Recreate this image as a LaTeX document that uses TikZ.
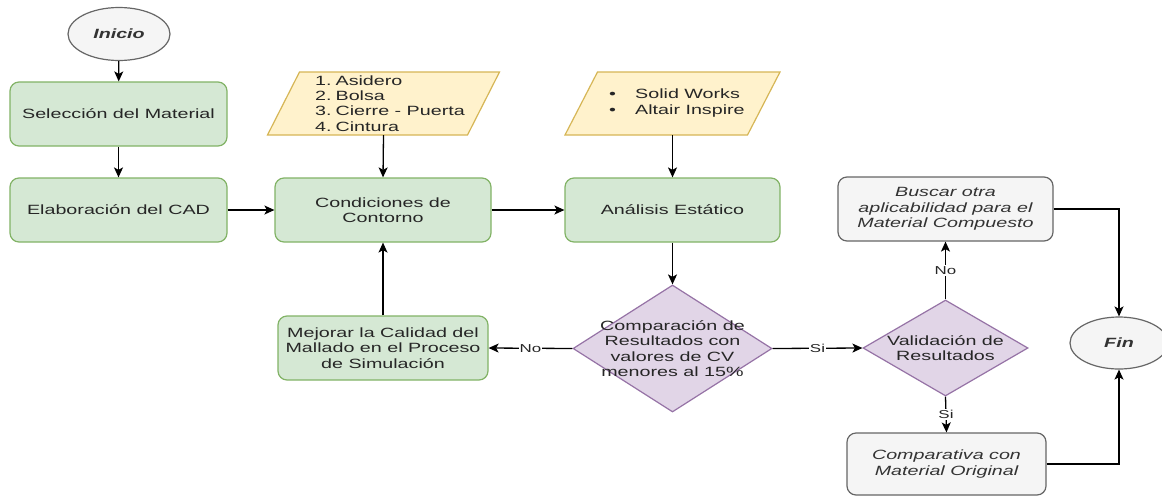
\documentclass[tikz,border=0pt]{standalone}
\usepackage{fontspec}
\setmainfont{Liberation Sans}[FakeStretch=1.47]
\usetikzlibrary{shapes.geometric,arrows.meta,calc}
\definecolor{gfill}{HTML}{D5E8D4}
\definecolor{gline}{HTML}{82B366}
\definecolor{yfill}{HTML}{FFF2CC}
\definecolor{yline}{HTML}{D6B656}
\definecolor{pfill}{HTML}{E1D5E7}
\definecolor{pline}{HTML}{9673A6}
\definecolor{efill}{HTML}{F5F5F5}
\definecolor{eline}{HTML}{666666}
\definecolor{etext}{HTML}{333333}
\newcommand\mainfs{\fontsize{13.4}{15.3}\selectfont}
\newcommand\lblfs{\fontsize{11.5}{13}\selectfont}
\tikzset{
  gbox/.style={draw=gline, fill=gfill, line width=1.2pt, rounded corners=9pt,
    minimum height=64pt, inner sep=0pt, align=center, font=\mainfs, text=black!85},
  ebox/.style={draw=eline, fill=efill, line width=1.2pt, rounded corners=9pt,
    minimum height=64pt, inner sep=0pt, align=center, font=\mainfs\itshape, text=etext},
  term/.style={draw=eline, fill=efill, line width=1.2pt, ellipse, inner sep=0pt,
    font=\mainfs\bfseries\itshape, text=etext},
  dec/.style={draw=pline, fill=pfill, line width=1.2pt, diamond, inner sep=0pt},
  para/.style={draw=yline, fill=yfill, line width=1.2pt},
  ghost/.style={inner sep=0pt, minimum width=168pt, minimum height=63pt},
  txt/.style={inner sep=0pt, font=\mainfs, text=black!85},
  arr/.style={draw=black, line width=1.3pt, -{Stealth[length=10pt,width=9pt,inset=2.5pt]}},
  lbl/.style={fill=white, inner sep=1pt, font=\lblfs, text=black!85},
}
\begin{document}
\begin{tikzpicture}[x=1pt,y=-1pt]
\useasboundingbox[fill=white] (0,0) rectangle (1162,496);

% nodes
\node[term, minimum width=102pt, minimum height=53pt] (ini) at (119,34) {Inicio};
\node[gbox, minimum width=217pt] (sel) at (118.5,114) {Selección del Material};
\node[gbox, minimum width=217pt] (cad) at (118.5,210) {Elaboración del CAD};
\node[gbox, minimum width=216pt] (cond) at (383,210) {Condiciones de\\Contorno};
\node[gbox, minimum width=215pt] (ana) at (672.5,210) {Análisis Estático};
\node[ebox, minimum width=215pt] (bus) at (945.5,209) {Buscar otra\\aplicabilidad para el\\Material Compuesto};
\node[gbox, minimum width=210pt] (mej) at (383,348) {Mejorar la Calidad del\\Mallado en el Proceso\\de Simulación};
\node[dec, minimum width=199pt, minimum height=127pt] (cmp) at (672.5,348.5) {};
\node[txt, align=center] (cmpT) at (672.5,348.5) {Comparación de\\Resultados con\\valores de CV\\menores al 15\%};
\node[dec, minimum width=165pt, minimum height=96pt] (val) at (945.5,348) {};
\node[txt, align=center] (valT) at (945.5,348) {Validación de\\Resultados};
\node[ebox, minimum width=199pt, minimum height=62pt] (comp) at (946.5,464) {Comparativa con\\Material Original};
\node[term, minimum width=98pt, minimum height=52pt] (fin) at (1119,343) {Fin};

% parallelograms
\node[ghost] (asid) at (383.5,103.5) {};
\draw[para] ($(asid.center)+(-84,-31.5)$) -- ($(asid.center)+(116,-31.5)$)
  -- ($(asid.center)+(84,31.5)$) -- ($(asid.center)+(-116,31.5)$) -- cycle;
\node[txt, align=left, anchor=west] (asidT) at (315,103.5)
  {1.\hspace{4pt}Asidero\\2.\hspace{4pt}Bolsa\\3.\hspace{4pt}Cierre - Puerta\\4.\hspace{4pt}Cintura};

\node[ghost] (sw) at (672.5,103.5) {};
\draw[para] ($(sw.center)+(-75,-31.5)$) -- ($(sw.center)+(107.5,-31.5)$)
  -- ($(sw.center)+(75,31.5)$) -- ($(sw.center)+(-107.5,31.5)$) -- cycle;
\node[txt, align=left, anchor=west] (swT) at (609,103)
  {\makebox[26pt][l]{\textbullet}Solid Works\\\makebox[26pt][l]{\textbullet}Altair Inspire};

% connectors
\draw[arr] (ini) -- (sel);
\draw[arr] (sel) -- (cad);
\draw[arr] (cad) -- (cond);
\draw[arr] (asid.south) -- (cond.north);
\draw[arr] (cond) -- (ana);
\draw[arr] (sw.south) -- (ana.north);
\draw[arr] (ana.south) -- (cmp.north);
\draw[arr] (cmp.west) -- node[lbl] (lNo1) {No} (mej.east);
\draw[arr] (mej.north) -- (cond.south);
\draw[arr] (cmp.east) -- node[lbl] (lSi1) {Si} (val.west);
\draw[arr] (val.north) -- node[lbl] (lNo2) {No} (bus.south);
\draw[arr] (val.south) -- node[lbl] (lSi2) {Si} (comp.north);
\draw[arr] (bus.east) -| (fin.north);
\draw[arr] (comp.east) -| (fin.south);
\end{tikzpicture}
\end{document}
